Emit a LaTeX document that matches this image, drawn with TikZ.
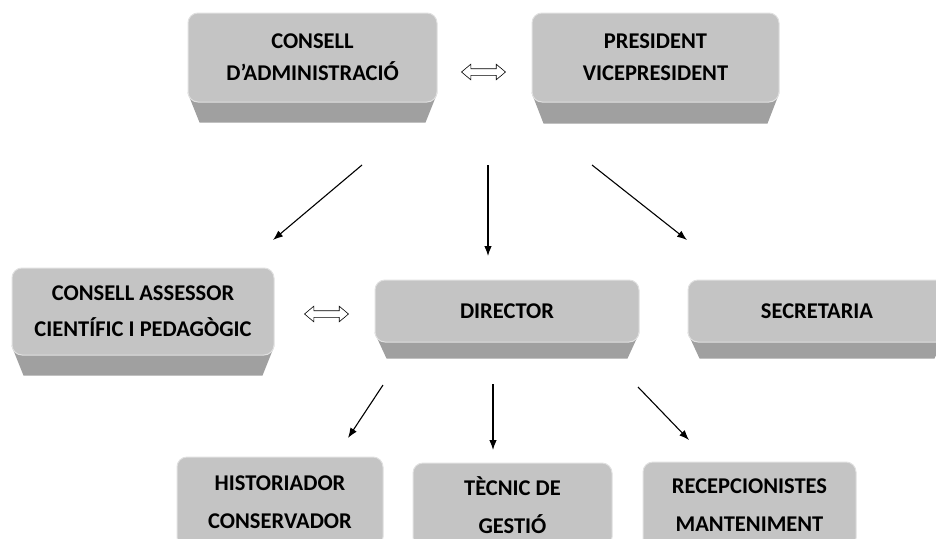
\documentclass[tikz,border=0pt]{standalone}
\usepackage{fontspec}
\setmainfont{Carlito}
\usetikzlibrary{arrows.meta,shapes.arrows,backgrounds}
\definecolor{boxface}{HTML}{C4C4C4}
\definecolor{boxside}{HTML}{A0A0A0}

\begin{document}
\begin{tikzpicture}[x=1pt,y=-1pt,
    caixa/.style={rounded corners=10pt, fill=boxface, draw=black!12, line width=1pt, align=center, inner sep=0pt, font=\bfseries\fontsize{22.5}{32}\selectfont},
    fletxa/.style={-{Latex[length=10pt,width=7.5pt]}, line width=1.1pt},
    doble/.style={double arrow, draw, fill=white, line width=0.6pt, minimum height=44pt, inner xsep=0pt, inner ysep=3pt, double arrow head extend=4.5pt, double arrow tip angle=80}]
    \clip (0,0) rectangle (936,538);

    \node[caixa, minimum width=249pt, minimum height=89pt](cons) at (312.5,57.5){CONSELL\\D’ADMINISTRACIÓ};
    \node[caixa, minimum width=247pt, minimum height=89pt](pres) at (655.5,57.5){PRESIDENT\\VICEPRESIDENT};

    \node[caixa, minimum width=262pt, minimum height=87pt](ases) at (143,311.5){CONSELL ASSESSOR\\[4pt]CIENTÍFIC I PEDAGÒGIC};
    \node[caixa, minimum width=264pt, minimum height=62pt](dir) at (507,311){DIRECTOR};
    \node[caixa, minimum width=258pt, minimum height=62pt](secr) at (817,311){SECRETARIA};

    \node[caixa, minimum width=206pt, minimum height=90pt](hist) at (280,502){HISTORIADOR\\[6pt]CONSERVADOR};
    \node[caixa, minimum width=199pt, minimum height=84pt](tecn) at (512.5,505){TÈCNIC DE\\[6pt]GESTIÓ};
    \node[caixa, minimum width=213pt, minimum height=86pt](recp) at (749.5,505){RECEPCIONISTES\\[6pt]MANTENIMENT};

    \begin{scope}[on background layer]
        \foreach \n/\d in {cons/20,pres/21,ases/20,dir/16,secr/16}
            \fill[boxside]([yshift=10pt]\n.south west)--([yshift=10pt]\n.south east)--([xshift=-12pt,yshift=-\d pt]\n.south east)--([xshift=12pt,yshift=-\d pt]\n.south west)--cycle;
    \end{scope}

    \node[doble](lnkA) at (483.5,72){};
    \node[doble](lnkB) at (326.5,314){};

    \coordinate(c1) at (362,165); \coordinate(e1) at (273,240);
    \coordinate(c2) at (488,165); \coordinate(e2) at (488,256);
    \coordinate(c3) at (592,165); \coordinate(e3) at (687,240);
    \coordinate(d1) at (383,385); \coordinate(f1) at (348,438);
    \coordinate(d2) at (493,384); \coordinate(f2) at (493,450);
    \coordinate(d3) at (638,387); \coordinate(f3) at (689,440);

    \foreach \a/\b in {c1/e1,c2/e2,c3/e3,d1/f1,d2/f2,d3/f3}
        \draw[fletxa](\a)--(\b);
\end{tikzpicture}
\end{document}
